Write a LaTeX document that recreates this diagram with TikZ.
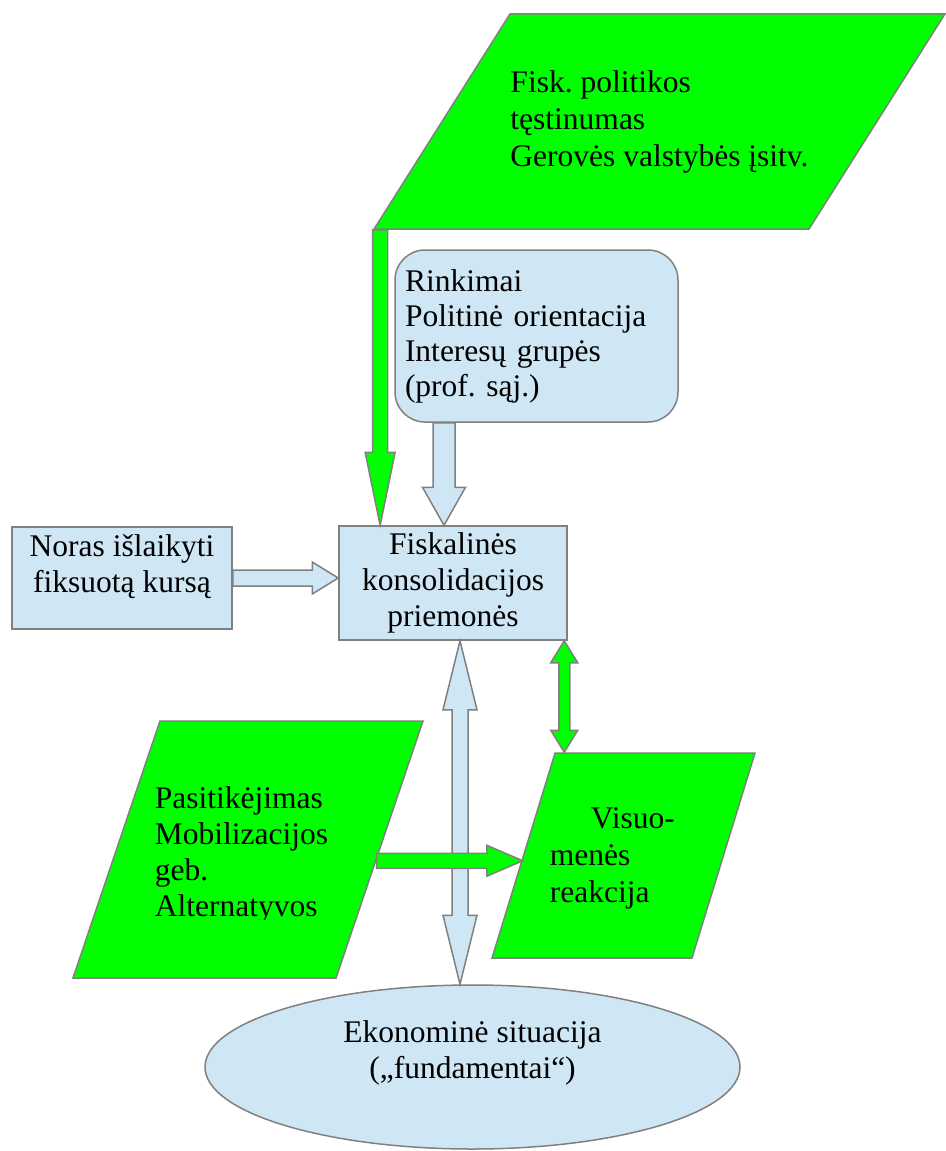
\documentclass[tikz,border=0pt]{standalone}
\usepackage{fontspec}
\setmainfont{Liberation Serif}
\usetikzlibrary{calc,shapes.geometric}
\frenchspacing

\definecolor{pgreen}{HTML}{00FF00}
\definecolor{lblue}{HTML}{CFE7F5}
\definecolor{edge}{HTML}{808080}

\tikzset{
  box/.style={draw=edge,fill=lblue,line width=1.5pt,inner sep=0pt,align=center,font=\fontsize{31.5}{36}\selectfont},
  para/.style={trapezium,trapezium stretches body=true,draw=edge,fill=pgreen,line width=1.5pt,inner sep=0pt,align=left,font=\fontsize{31.5}{37}\selectfont},
  blue arrow/.style={draw=edge,fill=lblue,line width=1.5pt},
  green arrow/.style={draw=edge,fill=pgreen,line width=1.5pt},
  fat/.style n args={3}{to path={
    -- ($(\tikztostart)!#1!90:(\tikztotarget)$)
    -- ($(\tikztotarget)!#3!(\tikztostart)!#1!-90:(\tikztostart)$)
    -- ($(\tikztotarget)!#3!(\tikztostart)!#2!-90:(\tikztostart)$)
    -- (\tikztotarget)
    -- ($(\tikztotarget)!#3!(\tikztostart)!#2!90:(\tikztostart)$)
    -- ($(\tikztotarget)!#3!(\tikztostart)!#1!90:(\tikztostart)$)
    -- ($(\tikztostart)!#1!-90:(\tikztotarget)$)
    -- cycle}},
  fat both/.style n args={3}{to path={
    -- ($(\tikztostart)!#3!(\tikztotarget)!#2!90:(\tikztotarget)$)
    -- ($(\tikztostart)!#3!(\tikztotarget)!#1!90:(\tikztotarget)$)
    -- ($(\tikztotarget)!#3!(\tikztostart)!#1!-90:(\tikztostart)$)
    -- ($(\tikztotarget)!#3!(\tikztostart)!#2!-90:(\tikztostart)$)
    -- (\tikztotarget)
    -- ($(\tikztotarget)!#3!(\tikztostart)!#2!90:(\tikztostart)$)
    -- ($(\tikztotarget)!#3!(\tikztostart)!#1!90:(\tikztostart)$)
    -- ($(\tikztostart)!#3!(\tikztotarget)!#1!-90:(\tikztotarget)$)
    -- ($(\tikztostart)!#3!(\tikztotarget)!#2!-90:(\tikztotarget)$)
    -- cycle}},
}

\begin{document}
\begin{tikzpicture}[x=1pt,y=-1pt]
  \useasboundingbox (0,0) rectangle (945,1151);

  \node (ptop) [para,trapezium left angle=57.7,trapezium right angle=122.3,inner ysep=56.3,minimum width=571,minimum height=215] at (659.5,121.5) {Fisk. politikos\\tęstinumas\\Gerovės valstybės įsitv.};
  \node (rink) [box,rounded corners=30,align=left,text width=263,inner xsep=10,minimum height=172,font=\fontsize{31.5}{35}\selectfont] at (536.5,336) {Rinkimai\\Politinė orientacija\\Interesų grupės\\(prof. sąj.)};
  \node (fisk) [box,minimum width=228,minimum height=114] at (453,583) {Fiskalinės\\konsolidacijos\\priemonės};
  \node (noras) [box,minimum width=220,minimum height=102] at (122,578) {Noras išlaikyti\\fiksuotą kursą\\[-8pt]\mbox{}};
  \node (pconf) [para,trapezium left angle=71.3,trapezium right angle=108.7,text height=1pt,text depth=0pt,inner ysep=128,minimum width=350,minimum height=257] at (248,849.5) {\phantom{x}};
  \begin{scope}
    \clip (60,700) rectangle (440,919);
    \node (pconf-txt) [inner sep=0pt,align=left,font=\fontsize{31.5}{36}\selectfont] at (241.5,854.5) {Pasitikėjimas\\Mobilizacijos\\geb.\\Alternatyvos};
  \end{scope}
  \node (preak) [para,trapezium left angle=72.9,trapezium right angle=107.1,text height=1pt,text depth=0pt,inner ysep=102,minimum width=263,minimum height=205] at (623.5,855.5) {\phantom{x}};
  \node (preak-txt) [inner sep=0pt,align=left,font=\fontsize{31.5}{37}\selectfont] at (612.4,858.5) {\hspace*{41pt}Visuo-\\menės\\reakcija};
  \node (peko) [box,ellipse,minimum width=535,minimum height=164] at (472.5,1067) {Ekonominė situacija\\(„fundamentai“)\\[-2pt]\mbox{}};

  \coordinate (g0) at ([xshift=7.5pt]ptop.bottom left corner);
  \coordinate (b0) at ([xshift=-9pt]fisk.north);
  \coordinate (b1) at ([xshift=7pt]fisk.south);
  \coordinate (g1) at ([xshift=-3.5pt]fisk.south east);
  \coordinate (g2) at (pconf.-5.6);

  \draw[green arrow] (g0) to[fat={7.5pt}{15pt}{73pt}] (g0 |- fisk.north);
  \draw[blue arrow] (b0 |- rink.south) to[fat={11pt}{21.5pt}{38pt}] (b0);
  \draw[blue arrow] (noras.east) to[fat={8pt}{16pt}{26pt}] (noras.east -| fisk.west);
  \draw[blue arrow] (b1) to[fat both={8pt}{17pt}{69pt}] (b1 |- peko.north);
  \draw[green arrow] (g1) to[fat both={5.5pt}{13.5pt}{22pt}] (g1 |- preak.top left corner);
  \draw[green arrow] (g2) to[fat={7.5pt}{15.5pt}{36pt}] (g2 -| preak.west);
\end{tikzpicture}
\end{document}
